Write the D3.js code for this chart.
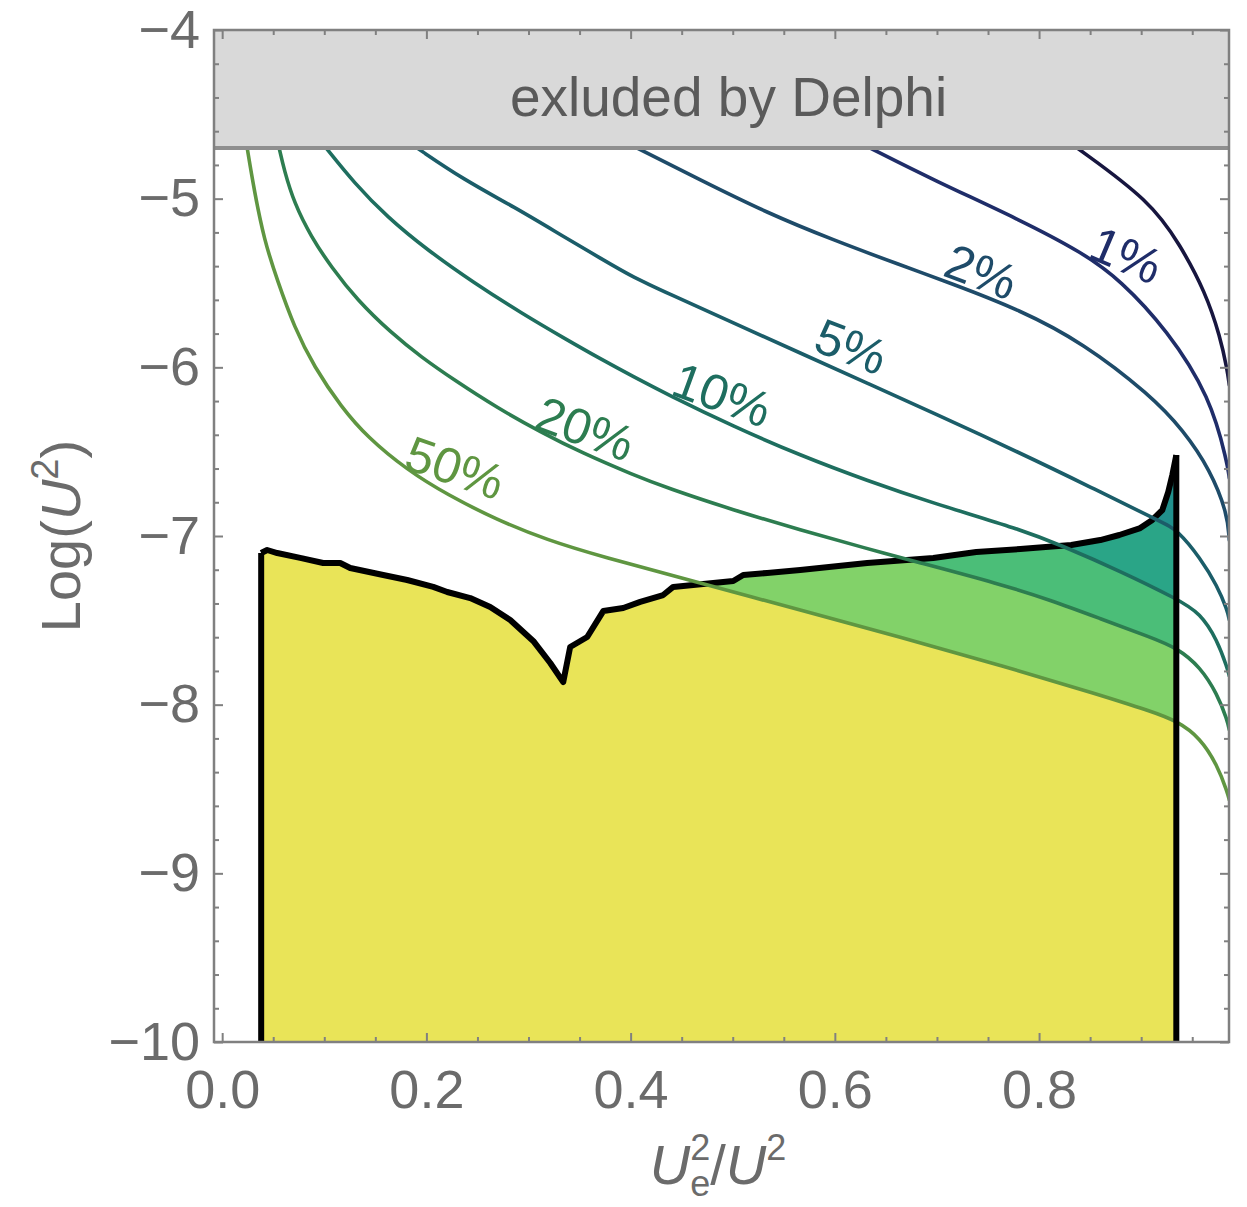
<!DOCTYPE html>
<html><head><meta charset="utf-8">
<script src="https://cdn.jsdelivr.net/npm/d3@7"></script>
<style>
body{margin:0;background:#fff}
svg{display:block}
text{font-family:"Liberation Sans",Arial,Helvetica,sans-serif}
</style>
</head><body>
<svg id="c" width="1247" height="1207"></svg>
<script>
// ---------- data ----------
const xTicks = [0, 0.2, 0.4, 0.6, 0.8];
const yTicks = [-10, -9, -8, -7, -6, -5, -4];
const xDomain = [-0.008, 0.986];
const yDomain = [-10, -4];
const delphiLimit = -4.7;
const delphiText = "exluded by Delphi";

// excluded region boundary (x = Ue^2/U^2, y = Log U^2)
const boundary = [
  [0.0382,-10.0],[0.0382,-7.101],[0.0441,-7.083],[0.0539,-7.101],[0.0764,-7.130],
  [0.0989,-7.160],[0.1156,-7.160],[0.1254,-7.190],[0.1577,-7.231],[0.1812,-7.261],
  [0.2067,-7.302],[0.2204,-7.332],[0.2429,-7.368],[0.2625,-7.421],[0.2821,-7.498],
  [0.3046,-7.622],[0.3213,-7.753],[0.3340,-7.866],[0.3408,-7.658],[0.3575,-7.599],
  [0.3732,-7.445],[0.3928,-7.427],[0.4094,-7.391],[0.4319,-7.350],[0.4417,-7.302],
  [0.4613,-7.291],[0.5005,-7.267],[0.5103,-7.231],[0.5338,-7.219],[0.5661,-7.202],
  [0.6317,-7.160],[0.6964,-7.130],[0.7385,-7.095],[0.7816,-7.077],[0.8315,-7.053],
  [0.8599,-7.024],[0.8786,-6.994],[0.8991,-6.953],[0.9109,-6.905],[0.9207,-6.846],
  [0.9265,-6.739],[0.9305,-6.638],[0.9344,-6.520],[0.9344,-10.0]
];

// contour levels
const curveDark = [[0.8374,-4.700],[0.9089,-5.014],[0.9383,-5.275],[0.9628,-5.553],[0.9775,-5.820],[0.9843,-6.016],[0.9863,-6.105]];
const curve1 = [[0.6347,-4.700],[0.6964,-4.889],[0.7816,-5.126],[0.8433,-5.322],[0.8795,-5.482],[0.9256,-5.779],[0.9677,-6.176],[0.9843,-6.567],[0.9863,-6.656]];
const curve2 = [[0.4065,-4.700],[0.4682,-4.889],[0.5338,-5.085],[0.5984,-5.245],[0.6640,-5.393],[0.7130,-5.500],[0.7816,-5.660],[0.8433,-5.856],[0.9089,-6.164],[0.9412,-6.372],[0.9677,-6.609],[0.9843,-6.864],[0.9863,-7.024]];
const curve5 = [[0.1910,-4.700],[0.2370,-4.889],[0.2860,-5.049],[0.3350,-5.227],[0.3702,-5.352],[0.4035,-5.470],[0.4358,-5.559],[0.5005,-5.737],[0.5661,-5.915],[0.6317,-6.093],[0.6964,-6.271],[0.7816,-6.508],[0.8501,-6.709],[0.9217,-6.923],[0.9354,-6.964],[0.9579,-7.130],[0.9745,-7.296],[0.9843,-7.439],[0.9863,-7.498]];
const curve10 = [[0.1019,-4.700],[0.1293,-4.907],[0.1616,-5.109],[0.2008,-5.304],[0.2468,-5.500],[0.2928,-5.678],[0.3379,-5.838],[0.3702,-5.949],[0.4035,-6.058],[0.4358,-6.160],[0.5005,-6.350],[0.5661,-6.522],[0.6317,-6.672],[0.6964,-6.806],[0.7816,-6.960],[0.8227,-7.058],[0.8795,-7.208],[0.9354,-7.374],[0.9579,-7.457],[0.9745,-7.617],[0.9843,-7.783],[0.9863,-7.830]];
const curve20 = [[0.0558,-4.700],[0.0607,-4.830],[0.0705,-5.026],[0.0872,-5.227],[0.1068,-5.405],[0.1322,-5.601],[0.1655,-5.796],[0.1949,-5.939],[0.2272,-6.075],[0.2693,-6.240],[0.3124,-6.385],[0.3516,-6.505],[0.4035,-6.640],[0.4358,-6.715],[0.5005,-6.846],[0.5661,-6.964],[0.6317,-7.075],[0.6778,-7.150],[0.7620,-7.285],[0.8110,-7.380],[0.8599,-7.490],[0.9089,-7.600],[0.9354,-7.664],[0.9579,-7.777],[0.9745,-7.937],[0.9843,-8.091],[0.9863,-8.150]];
const curve50 = [[0.0245,-4.700],[0.0313,-4.949],[0.0411,-5.245],[0.0539,-5.482],[0.0705,-5.761],[0.0901,-5.998],[0.1166,-6.235],[0.1420,-6.413],[0.1812,-6.609],[0.2204,-6.755],[0.2693,-6.905],[0.3183,-7.024],[0.3702,-7.120],[0.4682,-7.279],[0.5661,-7.439],[0.6640,-7.600],[0.7620,-7.765],[0.8599,-7.943],[0.9089,-8.038],[0.9354,-8.097],[0.9579,-8.198],[0.9745,-8.358],[0.9843,-8.518],[0.9863,-8.565]];

const levelNames = ["", "1%", "2%", "5%", "10%", "20%", "50%"];
const levelCurves = [curveDark, curve1, curve2, curve5, curve10, curve20, curve50];
const levelColors = ["#17163f", "#1f2d69", "#1e4b69", "#1b5d69", "#1e6e5f", "#2d7d50", "#5f9641"];
// label anchor (baseline start) in data coordinates, and rotation
const labelX = [null, 0.8462, 0.7042, 0.5768, 0.4377, 0.3036, 0.1762];
const labelY = [null, -5.346, -5.453, -5.897, -6.158, -6.360, -6.597];
const labelAngle = [0, 23, 21, 21, 20, 20, 19];

// band fills inside the excluded region (above each contour)
const bandCurves = [curve50, curve20, curve10, curve5];
const bandColors = ["#82d269", "#4bbe78", "#2aa587", "#21908c"];
const regionColor = "#e9e458";

// ---------- drawing ----------
const L = 214, R = 1229, T = 30, B = 1042;
const x = d3.scaleLinear().domain(xDomain).range([L, R]);
const y = d3.scaleLinear().domain(yDomain).range([B, T]);
const svg = d3.select("#c");
const defs = svg.append("defs");
defs.append("clipPath").attr("id", "plot").append("rect")
  .attr("x", L).attr("y", T).attr("width", R - L).attr("height", B - T);
const lineLin = d3.line().x(d => x(d[0])).y(d => y(d[1]));
defs.append("clipPath").attr("id", "region").append("path")
  .attr("d", lineLin(boundary) + "Z");

const g = svg.append("g").attr("clip-path", "url(#plot)");
g.append("path").attr("d", lineLin(boundary) + "Z").attr("fill", regionColor);

const area = d3.area().x(d => x(d[0])).y0(y(yDomain[1])).y1(d => y(d[1])).curve(d3.curveBasis);
const bandG = g.append("g").attr("clip-path", "url(#region)");
bandCurves.forEach((c, i) => {
  bandG.append("path").attr("d", area(c)).attr("fill", bandColors[i]);
});

// boundary top outline
g.append("path").attr("d", lineLin(boundary.slice(1, boundary.length - 1)))
  .attr("fill", "none").attr("stroke", "#000").attr("stroke-width", 6).attr("stroke-linejoin", "round");

// contour lines
const lineSmooth = d3.line().x(d => x(d[0])).y(d => y(d[1])).curve(d3.curveBasis);
levelCurves.forEach((c, i) => {
  g.append("path").attr("d", lineSmooth(c)).attr("fill", "none")
    .attr("stroke", levelColors[i]).attr("stroke-width", 3.6).attr("stroke-linecap", "round");
});

// vertical boundary edges
g.append("path").attr("d", lineLin(boundary.slice(0, 2)))
  .attr("stroke", "#000").attr("stroke-width", 6).attr("fill", "none");
g.append("path").attr("d", lineLin(boundary.slice(boundary.length - 2)))
  .attr("stroke", "#000").attr("stroke-width", 6).attr("fill", "none");

// contour labels
levelNames.forEach((name, i) => {
  if (!name) return;
  svg.append("text")
    .attr("transform", `translate(${x(labelX[i])},${y(labelY[i])}) rotate(${labelAngle[i]})`)
    .attr("font-size", 50).attr("fill", levelColors[i]).text(name);
});

// Delphi excluded band
svg.append("rect").attr("x", L).attr("y", y(yDomain[1])).attr("width", R - L)
  .attr("height", y(delphiLimit) - y(yDomain[1])).attr("fill", "#d9d9d9");
svg.append("line").attr("x1", L).attr("x2", R).attr("y1", y(delphiLimit)).attr("y2", y(delphiLimit))
  .attr("stroke", "#8f8f8f").attr("stroke-width", 4);
svg.append("text").attr("x", (L + R) / 2 + 7).attr("y", (y(yDomain[1]) + y(delphiLimit)) / 2 + 27)
  .attr("text-anchor", "middle").attr("font-size", 55).attr("fill", "#5a5a5a").text(delphiText);

// axes / frame
const tickColor = "#808080", labelColor = "#6b6b6b";
const xMinor = d3.range(0, 0.96, 0.05).filter(v => !xTicks.some(t => Math.abs(t - v) < 1e-6));
const yMinor = d3.range(-10, -3.99, 0.2).filter(v => !yTicks.some(t => Math.abs(t - v) < 1e-6));

function styleAxis(sel) {
  sel.select(".domain").remove();
  sel.selectAll(".tick line").attr("stroke", tickColor).attr("stroke-width", 2);
  sel.selectAll(".tick text").attr("fill", labelColor).attr("font-size", 54)
     .attr("font-family", "Liberation Sans, Arial, sans-serif");
}
svg.append("g").attr("transform", `translate(0,${B})`)
  .call(d3.axisBottom(x).tickValues(xTicks).tickSize(-9).tickPadding(28).tickFormat(d3.format(".1f"))).call(styleAxis);
svg.append("g").attr("transform", `translate(0,${B})`)
  .call(d3.axisBottom(x).tickValues(xMinor).tickSize(-5).tickFormat("")).call(styleAxis);
svg.append("g").attr("transform", `translate(0,${T})`)
  .call(d3.axisTop(x).tickValues(xTicks).tickSize(-9).tickFormat("")).call(styleAxis);
svg.append("g").attr("transform", `translate(0,${T})`)
  .call(d3.axisTop(x).tickValues(xMinor).tickSize(-5).tickFormat("")).call(styleAxis);
svg.append("g").attr("transform", `translate(${L},0)`)
  .call(d3.axisLeft(y).tickValues(yTicks).tickSize(-9).tickPadding(14).tickFormat(d3.format("d"))).call(styleAxis);
svg.append("g").attr("transform", `translate(${L},0)`)
  .call(d3.axisLeft(y).tickValues(yMinor).tickSize(-5).tickFormat("")).call(styleAxis);
svg.append("g").attr("transform", `translate(${R},0)`)
  .call(d3.axisRight(y).tickValues(yTicks).tickSize(-9).tickFormat("")).call(styleAxis);
svg.append("g").attr("transform", `translate(${R},0)`)
  .call(d3.axisRight(y).tickValues(yMinor).tickSize(-5).tickFormat("")).call(styleAxis);

svg.append("rect").attr("x", L).attr("y", T).attr("width", R - L).attr("height", B - T)
  .attr("fill", "none").attr("stroke", tickColor).attr("stroke-width", 2.5);

// axis titles
const xt = svg.append("text").attr("x", 718).attr("y", 1184).attr("text-anchor", "middle")
  .attr("font-size", 56).attr("fill", labelColor);
xt.append("tspan").attr("font-style", "italic").text("U");
xt.append("tspan").attr("font-size", 36).attr("dy", -24).text("2");
xt.append("tspan").attr("font-size", 36).attr("dx", -20).attr("dy", 36).text("e");
xt.append("tspan").attr("dy", -12).text("/");
xt.append("tspan").attr("font-style", "italic").text("U");
xt.append("tspan").attr("font-size", 36).attr("dy", -24).text("2");

const yt = svg.append("text").attr("transform", "translate(80,536) rotate(-90)")
  .attr("text-anchor", "middle").attr("font-size", 56).attr("fill", labelColor);
yt.append("tspan").text("Log(");
yt.append("tspan").attr("font-style", "italic").text("U");
yt.append("tspan").attr("font-size", 38).attr("dy", -22).text("2");
yt.append("tspan").attr("dy", 22).text(")");
</script>
</body></html>
